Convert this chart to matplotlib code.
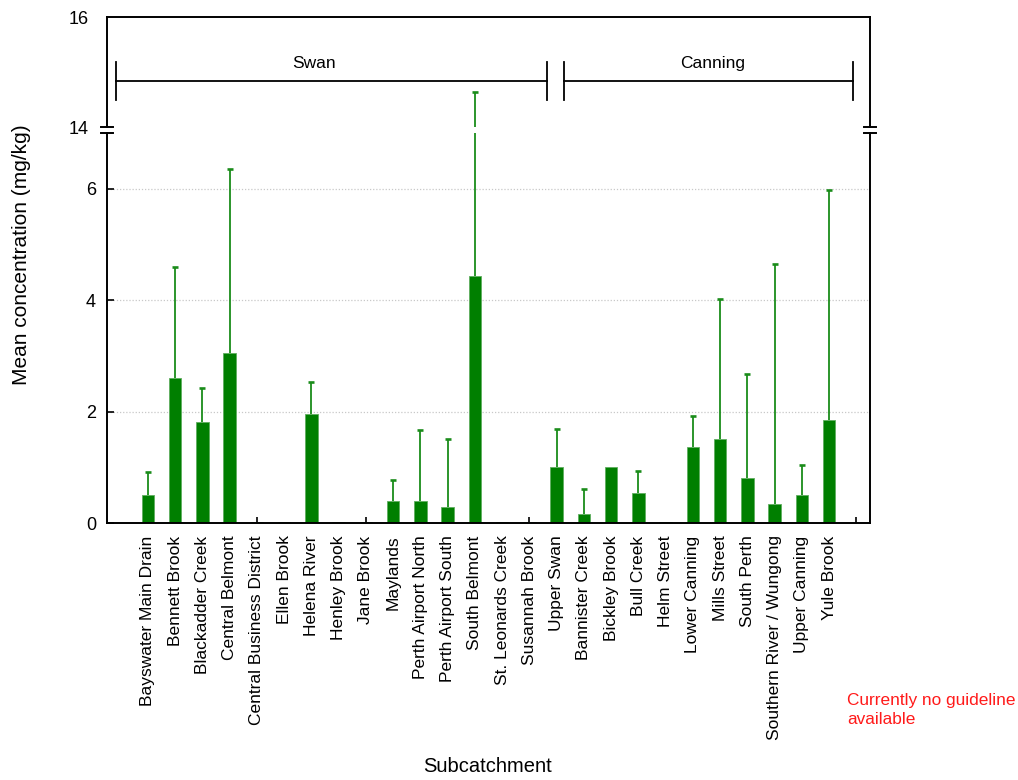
import matplotlib
matplotlib.use("Agg")
import matplotlib.pyplot as plt
from matplotlib.lines import Line2D

plt.rcParams['font.family'] = ['Liberation Sans', 'DejaVu Sans']

# Subcatchments grouped by catchment
swan_sites = ["Bayswater Main Drain", "Bennett Brook", "Blackadder Creek", "Central Belmont",
              "Central Business District", "Ellen Brook", "Helena River", "Henley Brook",
              "Jane Brook", "Maylands", "Perth Airport North", "Perth Airport South",
              "South Belmont", "St. Leonards Creek", "Susannah Brook", "Upper Swan"]
canning_sites = ["Bannister Creek", "Bickley Brook", "Bull Creek", "Helm Street",
                 "Lower Canning", "Mills Street", "South Perth", "Southern River / Wungong",
                 "Upper Canning", "Yule Brook"]

# Mean concentration (mg/kg)
swan_mean = [0.51, 2.60, 1.82, 3.05, 0.01, 0.01, 1.95, 0.01,
             0.01, 0.39, 0.40, 0.28, 4.43, 0.01, 0.01, 1.01]
canning_mean = [0.17, 1.00, 0.53, 0.01, 1.36, 1.50, 0.80, 0.34, 0.51, 1.84]

# Top of the upper error whisker (mg/kg); None where no whisker is shown
swan_upper = [0.91, 4.59, 2.42, 6.36, None, None, 2.53, None,
              None, 0.77, 1.67, 1.50, 14.63, None, None, 1.68]
canning_upper = [0.61, None, 0.93, None, 1.92, 4.02, 2.67, 4.65, 1.04, 5.98]

sites = swan_sites + canning_sites
means = swan_mean + canning_mean
tops = swan_upper + canning_upper

x = list(range(len(sites)))
ex = [xi for xi, t in zip(x, tops) if t is not None]
ey0 = [m for m, t in zip(means, tops) if t is not None]
ey1 = [t for t in tops if t is not None]

green = "#007f00"
whisker = "#1a8c1a"

fig = plt.figure(figsize=(10.18, 7.8), dpi=100)
W, H = 1018, 780

def fx(px):
    return px / W

def fy(py):
    return 1 - py / H

left, right = 107, 870
ax_lo = fig.add_axes([fx(left), fy(523), fx(right - left), fy(133) - fy(523)])
ax_hi = fig.add_axes([fx(left), fy(127), fx(right - left), fy(17) - fy(127)], sharex=ax_lo)

for ax in (ax_lo, ax_hi):
    ax.bar(x, means, width=0.45, color=green, edgecolor="#5fae5f", linewidth=0.6, zorder=3)
    ax.vlines(ex, ey0, ey1, color=whisker, linewidth=1.3, zorder=4)
    ax.plot(ex, ey1, linestyle="none", marker="_", markersize=4.5,
            markeredgewidth=1.9, color=whisker, zorder=4)
    for s in ax.spines.values():
        s.set_linewidth(1.4)
        s.set_zorder(5)

ax_lo.set_xlim(-1.5, 26.5)
ax_lo.set_ylim(0, 7)
ax_hi.set_ylim(14, 16)

ax_lo.spines["top"].set_visible(False)
ax_hi.spines["bottom"].set_visible(False)

ax_lo.set_yticks([0, 2, 4, 6])
ax_lo.set_yticklabels(["0", "2", "4", "6"], fontsize=13)
ax_hi.set_yticks([14, 16])
ax_hi.set_yticklabels(["14", "16"], fontsize=13)
ax_lo.tick_params(axis="y", direction="in", length=5, width=1.2, pad=8)
ax_hi.tick_params(axis="y", length=0, pad=13)

ax_lo.grid(axis="y", linestyle=(0, (1, 1.5)), color="#c8c8c8", linewidth=0.9, zorder=0)

# Labels on every bar, tick marks on every second slot
ax_lo.xaxis.remove_overlapping_locs = False
ax_lo.set_xticks(x)
ax_lo.set_xticklabels(sites, rotation=90, fontsize=12.5, va="top", ha="center")
ax_lo.tick_params(axis="x", which="major", length=0, pad=9)
ax_lo.set_xticks(range(0, 27, 2), minor=True)
ax_lo.tick_params(axis="x", which="minor", direction="in", length=4, width=1.2)
ax_hi.tick_params(axis="x", which="both", bottom=False, labelbottom=False)

# Catchment brackets
def bracket(ax, x0, x1, xl, label):
    yb = 14.84
    ax.plot([x0, x1], [yb, yb], color="black", lw=1.3, clip_on=False)
    for xx in (x0, x1):
        ax.plot([xx, xx], [yb - 0.35, yb + 0.35], color="black", lw=1.3, clip_on=False)
    ax.text(xl, yb + 0.32, label, ha="center", va="center", fontsize=12.5)

bracket(ax_hi, -1.17, 14.65, 6.1, "Swan")
bracket(ax_hi, 15.26, 25.88, 20.74, "Canning")

# Axis break marks on both vertical spines
for px in (left, right):
    for py in (127, 133):
        fig.add_artist(Line2D([fx(px - 6), fx(px + 6)], [fy(py), fy(py)],
                              color="black", lw=1.4, transform=fig.transFigure))

fig.text(fx(22), fy(255), "Mean concentration (mg/kg)", rotation=90,
         ha="center", va="center", fontsize=15)
fig.text(fx(488), fy(767), "Subcatchment", ha="center", va="center", fontsize=14.5)
fig.text(fx(847), fy(710), "Currently no guideline\navailable", ha="left", va="center",
         fontsize=12.4, color="#ff1a1a", linespacing=1.4)

fig.savefig("out.png", dpi=100)
